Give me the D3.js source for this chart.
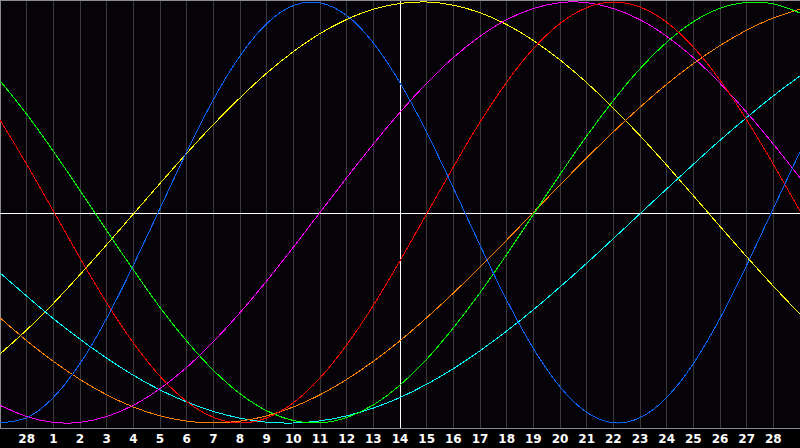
<html>
<head>
<meta charset="utf-8">
<title>Biorhythm</title>
<script src="https://d3js.org/d3.v7.min.js"></script>
<style>
	body { margin: 0; background: #000; }
	svg { display: block; }
	.grid line { stroke: #3a3a3a; stroke-width: 1; shape-rendering: crispEdges; }
	.cross line { stroke: #fff; stroke-width: 1; shape-rendering: crispEdges; }
	.curve { fill: none; stroke-width: 1; shape-rendering: crispEdges; }
	.lbl { fill: #fff; font-family: "DejaVu Sans", sans-serif; font-size: 12px; font-weight: bold; }
</style>
</head>
<body>
<svg id="chart" width="800" height="448"></svg>
<script>

// day offsets along the chart (0 = left edge, 30 = right edge)
var days = [0,1,2,3,4,5,6,7,8,9,10,11,12,13,14,15,16,17,18,19,20,21,22,23,24,25,26,27,28,29,30];

// day-of-month labels, one per grid line (days 1..29)
var dayLabels = ["28","1","2","3","4","5","6","7","8","9","10","11","12","13","14",
	"15","16","17","18","19","20","21","22","23","24","25","26","27","28"];

// values in percent (-100..100) at each day
var physical     = [-99.9,-97.5,-87.9,-71.8,-50.3,-25.1,1.9,28.8,53.6,74.4,89.7,98.3,99.6,93.6,80.6,61.6,38.1,11.7,-15.5,-41.6,-64.6,-82.8,-94.9,-99.9,-97.5,-87.9,-71.8,-50.3,-25.1,1.9,28.8];
var emotional    = [44.0,22.9,0.7,-21.6,-42.9,-61.9,-77.8,-89.8,-97.3,-100,-97.6,-90.4,-78.6,-62.9,-44.1,-22.9,-0.7,21.6,42.9,61.9,77.8,89.8,97.3,100,97.6,90.4,78.6,62.9,44.0,22.9,0.7];
var intellectual = [62.6,46.7,29.1,10.5,-8.6,-27.2,-45.1,-61.1,-74.9,-86.1,-94.2,-98.8,-99.9,-97.4,-91.4,-82.0,-69.7,-54.8,-38.1,-19.9,-1.0,18.0,36.3,53.2,68.3,80.9,90.6,97.0,99.8,99.1,94.8];
var intuitive    = [-91.6,-96.9,-99.7,-99.7,-96.9,-91.6,-83.7,-73.6,-61.4,-47.6,-32.5,-16.5,0,16.5,32.5,47.6,61.4,73.6,83.7,91.6,96.9,99.7,99.7,96.9,91.6,83.7,73.6,61.4,47.6,32.5,16.5];
var aesthetic    = [-67.2,-55.8,-43.2,-29.5,-15.3,-0.7,13.8,28.1,41.8,54.5,66.2,76.4,85.0,91.7,96.6,99.3,100,98.5,94.9,89.3,81.7,72.5,61.7,49.6,36.5,22.5,8.0,-6.6,-21.0,-35.0,-48.3];
var awareness    = [-50.0,-60.9,-70.7,-79.3,-86.6,-92.4,-96.6,-99.1,-100,-99.1,-96.6,-92.4,-86.6,-79.3,-70.7,-60.9,-50.0,-38.3,-25.9,-13.1,0,13.1,25.9,38.3,50.0,60.9,70.7,79.3,86.6,92.4,96.6];
var spiritual    = [-28.7,-39.7,-50.4,-60.2,-69.2,-77.3,-84.3,-90.0,-94.5,-97.7,-99.6,-100,-99.0,-96.6,-92.9,-87.9,-81.6,-74.2,-65.7,-56.3,-46.2,-35.4,-24.1,-12.4,-0.6,11.2,22.9,34.3,45.1,55.4,64.9];

var series = [
	{name: "aesthetic",    values: aesthetic,    color: "#ffff00"},
	{name: "spiritual",    values: spiritual,    color: "#00ffff"},
	{name: "awareness",    values: awareness,    color: "#ff8000"},
	{name: "intuitive",    values: intuitive,    color: "#ff00ff"},
	{name: "intellectual", values: intellectual, color: "#00ff00"},
	{name: "emotional",    values: emotional,    color: "#ff0000"},
	{name: "physical",     values: physical,     color: "#0a64ff"}
];

var width = 800, plotBottom = 428;

var svg = d3.select("#chart");

var x = d3.scaleLinear().domain([0, 30]).range([0, width]);
var y = d3.scaleLinear().domain([-100, 100]).range([423, 2]);

svg.append("rect")
	.attr("width", 800).attr("height", 448)
	.style("fill", "#000");
svg.append("rect")
	.attr("width", width).attr("height", plotBottom)
	.style("fill", "#050308");

// vertical day grid
svg.append("g").attr("class", "grid")
	.selectAll("line").data(dayLabels)
	.enter().append("line")
	.attr("x1", function (d, i) { return Math.floor(x(i + 1)) + 0.5 })
	.attr("x2", function (d, i) { return Math.floor(x(i + 1)) + 0.5 })
	.attr("y1", 1)
	.attr("y2", plotBottom);

// frame: top, left, bottom
svg.append("path")
	.attr("d", "M0.5," + plotBottom + "V0.5H" + width + "M0," + (plotBottom + 0.5) + "H" + width)
	.style("fill", "none")
	.style("stroke", "#8c8c8c")
	.style("shape-rendering", "crispEdges");

// today cross-hair
var cross = svg.append("g").attr("class", "cross");
cross.append("line")
	.attr("x1", Math.floor(x(15)) + 0.5).attr("x2", Math.floor(x(15)) + 0.5)
	.attr("y1", 1).attr("y2", plotBottom);
cross.append("line")
	.attr("x1", 0).attr("x2", width)
	.attr("y1", Math.round(y(0)) + 0.5).attr("y2", Math.round(y(0)) + 0.5);

var line = d3.line()
	.x(function (d, i) { return x(days[i]) })
	.y(function (d) { return y(d) })
	.curve(d3.curveNatural);

svg.append("g")
	.selectAll("path").data(series)
	.enter().append("path")
	.attr("class", "curve")
	.attr("d", function (s) { return line(s.values) })
	.style("stroke", function (s) { return s.color });

// day labels under the grid lines
svg.append("g")
	.selectAll("text").data(dayLabels)
	.enter().append("text")
	.attr("class", "lbl")
	.attr("x", function (d, i) { return x(i + 1) })
	.attr("y", 443)
	.attr("text-anchor", "middle")
	.text(function (d) { return d });

</script>
</body>
</html>
